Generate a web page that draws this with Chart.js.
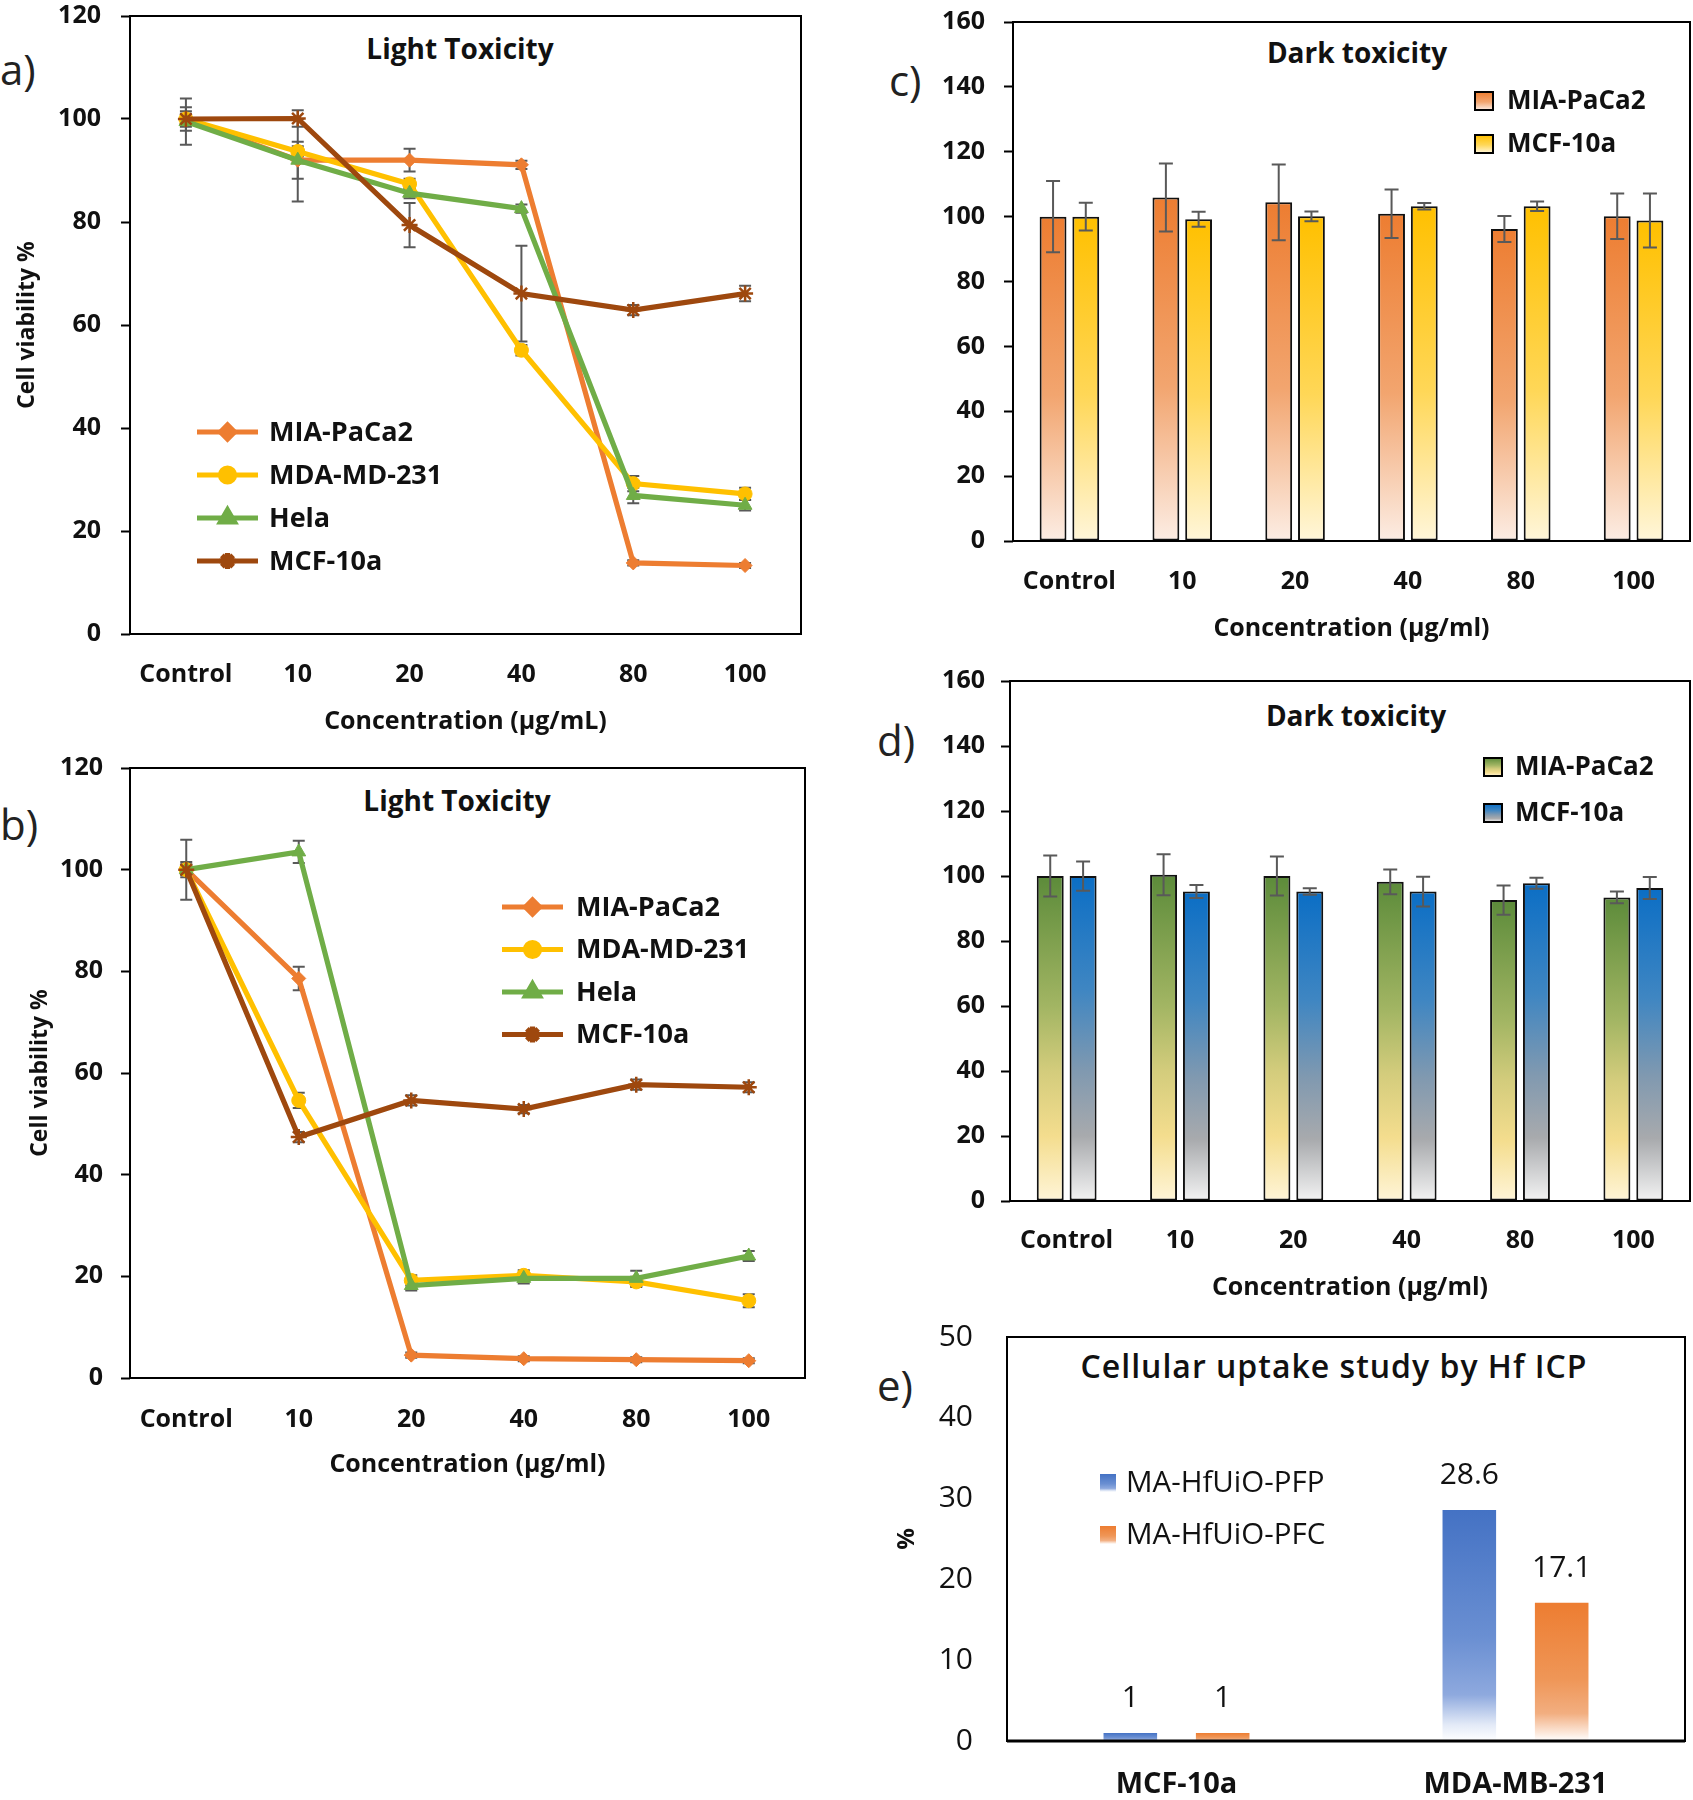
<!DOCTYPE html>
<html>
<head>
<meta charset="utf-8">
<script src="https://cdn.jsdelivr.net/npm/chart.js@4.4.1/dist/chart.umd.min.js"></script>
<style>
html,body{margin:0;padding:0;background:#fff;}
body{width:1693px;height:1800px;position:relative;overflow:hidden;font-family:'Open Sans',Lato,sans-serif;color:#111;}
.txt{position:absolute;white-space:nowrap;transform:translate(-50%,-50%);line-height:1;}
.plab{position:absolute;white-space:nowrap;transform:translateY(-50%);font-size:42px;font-weight:400;line-height:1;color:#222;}
.panel{position:absolute;}
</style>
</head>
<body>
<div class="plab" style="left:0px;top:69px;">a)</div>
<div class="plab" style="left:0px;top:824px;">b)</div>
<div class="plab" style="left:889px;top:80px;">c)</div>
<div class="plab" style="left:877px;top:740px;">d)</div>
<div class="plab" style="left:877px;top:1385px;">e)</div>
<div class="txt" style="left:460px;top:48px;font-size:28px;font-weight:700;">Light Toxicity</div>
<div class="txt" style="left:457px;top:800px;font-size:28px;font-weight:700;">Light Toxicity</div>
<div class="txt" style="left:1357px;top:52px;font-size:28px;font-weight:700;">Dark toxicity</div>
<div class="txt" style="left:1356px;top:715px;font-size:28px;font-weight:700;">Dark toxicity</div>
<div class="txt" style="left:1334px;top:1366px;font-size:32px;font-weight:600;letter-spacing:1px;">Cellular uptake study by Hf ICP</div>

<script>
// ---------------- DATA ----------------
const concCategories = ['Control', '10', '20', '40', '80', '100'];
const lineSeriesNames = ['MIA-PaCa2', 'MDA-MD-231', 'Hela', 'MCF-10a'];

// Panel a – Light toxicity
const aMIA     = [100, 92.0, 92.0, 91.1, 13.8, 13.3];
const aMIAErr  = [2.3, 3.6, 2.2, 0.8, 0.5, 0.5];
const aMDA     = [100, 93.7, 87.4, 55.1, 29.2, 27.2];
const aMDAErr  = [1.0, 1.0, 1.0, 1.0, 1.5, 1.2];
const aHela    = [99.5, 92.0, 85.6, 82.6, 26.9, 25.0];
const aHelaErr = [4.5, 8.0, 1.0, 0.8, 1.5, 1.0];
const aMCF     = [100, 100.1, 79.4, 66.1, 62.9, 66.1];
const aMCFErr  = [1.5, 1.6, 4.3, 9.3, 1.0, 1.5];

// Panel b – Light toxicity
const bMIA     = [100, 78.6, 4.5, 3.8, 3.6, 3.4];
const bMIAErr  = [1.5, 2.3, 0.5, 0.5, 0.5, 0.5];
const bMDA     = [100, 54.6, 19.2, 20.2, 18.9, 15.2];
const bMDAErr  = [1.0, 1.5, 1.0, 1.0, 1.0, 1.3];
const bHela    = [100, 103.5, 18.2, 19.6, 19.6, 24.0];
const bHelaErr = [1.0, 2.2, 1.0, 1.0, 1.5, 1.0];
const bMCF     = [100, 47.4, 54.6, 52.9, 57.7, 57.2];
const bMCFErr  = [5.9, 1.0, 1.0, 0.8, 1.0, 1.0];

// Panel c – Dark toxicity
const barSeriesNames = ['MIA-PaCa2', 'MCF-10a'];
const cMIA    = [100, 105.9, 104.4, 100.9, 96.2, 100.1];
const cMIAErr = [11.0, 10.5, 11.7, 7.5, 4.0, 7.0];
const cMCF    = [100, 99.2, 100.1, 103.2, 103.2, 98.8];
const cMCFErr = [4.3, 2.3, 1.5, 1.0, 1.5, 8.3];

// Panel d – Dark toxicity
const dMIA    = [100, 100.4, 100, 98.2, 92.6, 93.4];
const dMIAErr = [6.3, 6.3, 6.0, 3.8, 4.5, 1.8];
const dMCF    = [100, 95.2, 95.2, 95.2, 97.8, 96.3];
const dMCFErr = [4.5, 2.0, 1.0, 4.6, 1.7, 3.4];

// Panel e – Cellular uptake
const eCategories = ['MCF-10a', 'MDA-MB-231'];
const eSeriesNames = ['MA-HfUiO-PFP', 'MA-HfUiO-PFC'];
const ePFP = [1, 28.6];
const ePFC = [1, 17.1];

// tick settings
const lightYMax = 120, lightYStep = 20;
const darkYMax = 160, darkYStep = 20;
const uptakeYMax = 50, uptakeYStep = 10;

// ---------------- STYLE ----------------
const FONT = "'Open Sans'";
const FONTFAM = 'Open Sans';
const C_ORANGE = '#ED7D31', C_YELLOW = '#FFC000', C_GREEN = '#70AD47', C_BROWN = '#9E480E';
const TXT = '#111';

const gradOrange = [[0, '#ED7D31'], [0.55, '#F2A56F'], [1, '#FCEDE4']];
const gradYellow = [[0, '#FFC000'], [0.55, '#FFD757'], [1, '#FFF6DA']];
const gradGreen  = [[0, '#5C8B3A'], [0.4, '#A2B563'], [0.6, '#D3CC7C'], [0.8, '#F4DD8E'], [1, '#FFF5D8']];
const gradBlue   = [[0, '#0B6EC5'], [0.35, '#3F86C2'], [0.6, '#8099B0'], [0.8, '#A8AAAD'], [1, '#F3F3F3']];
const gradEBlue  = [[0, '#4472C4'], [0.55, '#6A8FD2'], [0.8, '#8EA9DE'], [0.93, '#E3EAF7'], [1, '#FFFFFF']];
const gradEOrange= [[0, '#ED7D31'], [0.55, '#EF9657'], [0.8, '#F2AE80'], [0.93, '#FBE3D3'], [1, '#FFFFFF']];

// ---------------- PLUGINS ----------------
function drawErrors(chart, o) {
  const ctx = chart.ctx, ys = chart.scales.y;
  ctx.save();
  ctx.strokeStyle = o.color; ctx.lineWidth = o.width; ctx.lineCap = 'butt';
  chart.data.datasets.forEach((ds, di) => {
    if (!ds.errorBars) return;
    const meta = chart.getDatasetMeta(di);
    meta.data.forEach((el, i) => {
      const v = ds.data[i], e = ds.errorBars[i];
      if (e == null || v == null) return;
      const x = el.x, yt = ys.getPixelForValue(v + e), yb = ys.getPixelForValue(v - e);
      ctx.beginPath();
      ctx.moveTo(x, yt); ctx.lineTo(x, yb);
      ctx.moveTo(x - o.cap, yt); ctx.lineTo(x + o.cap, yt);
      ctx.moveTo(x - o.cap, yb); ctx.lineTo(x + o.cap, yb);
      ctx.stroke();
    });
  });
  ctx.restore();
}
const errorBarPlugin = {
  id: 'errorBars',
  beforeDatasetsDraw(chart, a, o) { if (o.layer === 'below') drawErrors(chart, o); },
  afterDatasetsDraw(chart, a, o) { if (o.layer !== 'below') drawErrors(chart, o); }
};
const framePlugin = {
  id: 'frame',
  afterDatasetsDraw(chart, a, o) {
    const {left, top, right, bottom} = chart.chartArea, ctx = chart.ctx;
    ctx.save(); ctx.strokeStyle = '#000'; ctx.lineWidth = o.width || 2;
    ctx.strokeRect(left, top, right - left, bottom - top);
    if (o.bottomWidth) { ctx.lineWidth = o.bottomWidth; ctx.beginPath(); ctx.moveTo(left, bottom); ctx.lineTo(right, bottom); ctx.stroke(); }
    ctx.restore();
  }
};
function fillGradRect(ctx, stops, x, y, w, h) {
  const g = ctx.createLinearGradient(0, y, 0, y + h);
  stops.forEach(s => g.addColorStop(s[0], s[1]));
  ctx.fillStyle = g; ctx.fillRect(x, y, w, h);
}
const insideLegendPlugin = {
  id: 'insideLegend',
  afterDraw(chart, a, o) {
    const ctx = chart.ctx;
    ctx.save();
    chart.data.datasets.forEach((ds, i) => {
      const y = o.y + i * o.dy;
      if (o.kind === 'line') {
        ctx.strokeStyle = ds.borderColor; ctx.lineWidth = ds.borderWidth;
        ctx.beginPath(); ctx.moveTo(o.x, y); ctx.lineTo(o.x + o.len, y); ctx.stroke();
        ctx.fillStyle = ds.pointBackgroundColor; ctx.strokeStyle = ds.pointBorderColor;
        Chart.helpers.drawPoint(ctx, {pointStyle: ds.pointStyle, radius: ds.pointRadius, rotation: 0, borderWidth: ds.pointBorderWidth}, o.x + o.len / 2, y);
      } else {
        fillGradRect(ctx, ds.gradStops, o.x, y - o.box / 2, o.boxW || o.box, o.box);
        if (o.border) { ctx.strokeStyle = '#000'; ctx.lineWidth = 2; ctx.strokeRect(o.x, y - o.box / 2, o.boxW || o.box, o.box); }
      }
      ctx.fillStyle = TXT; ctx.font = o.font; ctx.textAlign = 'left'; ctx.textBaseline = 'middle';
      ctx.fillText(ds.label, o.textX, y + 1);
    });
    ctx.restore();
  }
};
const valueLabelPlugin = {
  id: 'valueLabels',
  afterDatasetsDraw(chart, a, o) {
    const ctx = chart.ctx;
    ctx.save(); ctx.fillStyle = TXT; ctx.font = o.font; ctx.textAlign = 'center'; ctx.textBaseline = 'middle';
    chart.data.datasets.forEach((ds, di) => {
      chart.getDatasetMeta(di).data.forEach((el, i) => {
        ctx.fillText(String(ds.data[i]), el.x, el.y - o.gap);
      });
    });
    ctx.restore();
  }
};
function barGradient(stops) {
  return (c) => {
    const chart = c.chart;
    if (!chart.chartArea || c.type !== 'data' || !chart.scales.y) return stops[0][1];
    const ys = chart.scales.y;
    const top = ys.getPixelForValue(c.raw), base = ys.getPixelForValue(0);
    if (Math.abs(base - top) < 1) return stops[0][1];
    const g = chart.ctx.createLinearGradient(0, top, 0, base);
    stops.forEach(s => g.addColorStop(s[0], s[1]));
    return g;
  };
}

// ---------------- HELPERS ----------------
function makePanel(left, top, width, height, config) {
  const div = document.createElement('div');
  div.className = 'panel';
  div.style.left = left + 'px'; div.style.top = top + 'px';
  div.style.width = width + 'px'; div.style.height = height + 'px';
  const cv = document.createElement('canvas');
  cv.width = width; cv.height = height;
  cv.style.width = width + 'px'; cv.style.height = height + 'px';
  div.appendChild(cv);
  document.body.appendChild(div);
  return new Chart(cv, config);
}
function fixW(w) { return (s) => { s.width = w; s.paddingTop = 0; s.paddingBottom = 0; }; }
function fixH(h) { return (s) => { s.height = h; s.paddingLeft = 0; s.paddingRight = 0; }; }

function lineDatasets(vals, errs) {
  const styles = [
    {c: C_ORANGE, ps: 'rectRot', r: 7, bw: 1, order: 4},
    {c: C_YELLOW, ps: 'circle', r: 7, bw: 1, order: 3},
    {c: C_GREEN, ps: 'triangle', r: 8, bw: 1, order: 2},
    {c: C_BROWN, ps: 'star', r: 8, bw: 2.5, order: 1}
  ];
  return vals.map((v, i) => ({
    label: lineSeriesNames[i], data: v, errorBars: errs[i],
    borderColor: styles[i].c, backgroundColor: styles[i].c, borderWidth: 5.2,
    pointStyle: styles[i].ps, pointRadius: styles[i].r, pointBorderWidth: styles[i].bw,
    pointBackgroundColor: styles[i].c, pointBorderColor: styles[i].c, pointHoverRadius: styles[i].r,
    tension: 0, order: styles[i].order, fill: false
  }));
}

function lineConfig(datasets, p) {
  return {
    type: 'line',
    data: {labels: concCategories, datasets},
    plugins: [errorBarPlugin, framePlugin, insideLegendPlugin],
    options: {
      responsive: false, animation: false, devicePixelRatio: 1,
      layout: {padding: {top: p.padTop, right: p.padRight, left: 0, bottom: 0}},
      plugins: {
        legend: {display: false}, tooltip: {enabled: false}, title: {display: false},
        errorBars: {layer: 'below', color: '#595959', width: 2, cap: 6},
        frame: {width: 2},
        insideLegend: p.legend
      },
      scales: {
        x: {
          type: 'category', offset: true, afterFit: fixH(p.xH),
          grid: {display: false, drawTicks: false}, border: {display: false},
          ticks: {font: {family: FONTFAM, size: 25, weight: 'bold'}, color: TXT, padding: p.xTickPad, maxRotation: 0, autoSkip: false},
          title: {display: true, text: p.xTitle, font: {family: FONTFAM, size: 25, weight: 'bold'}, color: TXT, padding: {top: 0, bottom: p.xTitlePad}}
        },
        y: {
          min: 0, max: lightYMax, afterFit: fixW(p.yW),
          grid: {display: true, drawOnChartArea: false, drawTicks: true, tickLength: 9, tickColor: '#000', tickWidth: 2, color: '#000'},
          border: {display: false},
          ticks: {stepSize: lightYStep, font: {family: FONTFAM, size: 25, weight: 'bold'}, color: TXT, padding: p.yTickPad},
          title: {display: true, text: 'Cell viability %', font: {family: FONTFAM, size: 23, weight: 'bold'}, color: TXT, padding: {top: p.yTitlePad, bottom: 0}}
        }
      }
    }
  };
}

function darkConfig(vals, errs, grads, p) {
  return {
    type: 'bar',
    data: {labels: concCategories, datasets: vals.map((v, i) => ({
      label: barSeriesNames[i], data: v, errorBars: errs[i], gradStops: grads[i],
      backgroundColor: barGradient(grads[i]), borderColor: '#111', borderWidth: 2, borderSkipped: false,
      categoryPercentage: 0.58, barPercentage: 0.82
    }))},
    plugins: [errorBarPlugin, framePlugin, insideLegendPlugin],
    options: {
      responsive: false, animation: false, devicePixelRatio: 1,
      layout: {padding: {top: p.padTop, right: p.padRight, left: 0, bottom: 0}},
      plugins: {
        legend: {display: false}, tooltip: {enabled: false}, title: {display: false},
        errorBars: {layer: 'above', color: '#595959', width: 2, cap: 7},
        frame: {width: 2},
        insideLegend: p.legend
      },
      scales: {
        x: {
          type: 'category', offset: true, afterFit: fixH(p.xH),
          grid: {display: false, drawTicks: false}, border: {display: false},
          ticks: {font: {family: FONTFAM, size: 25, weight: 'bold'}, color: TXT, padding: p.xTickPad, maxRotation: 0, autoSkip: false},
          title: {display: true, text: 'Concentration (µg/ml)', font: {family: FONTFAM, size: 25, weight: 'bold'}, color: TXT, padding: {top: 0, bottom: p.xTitlePad}}
        },
        y: {
          min: 0, max: darkYMax, afterFit: fixW(p.yW),
          grid: {display: true, drawOnChartArea: false, drawTicks: true, tickLength: 9, tickColor: '#000', tickWidth: 2, color: '#000'},
          border: {display: false},
          ticks: {stepSize: darkYStep, font: {family: FONTFAM, size: 25, weight: 'bold'}, color: TXT, padding: p.yTickPad}
        }
      }
    }
  };
}

// ---------------- PANELS ----------------
// a) plot area: x 130–801, y 16–634
makePanel(0, 0, 813, 746, lineConfig(
  lineDatasets([aMIA, aMDA, aHela, aMCF], [aMIAErr, aMDAErr, aHelaErr, aMCFErr]),
  {padTop: 16, padRight: 12, xH: 112, yW: 130, xTickPad: 26, xTitlePad: 9, yTickPad: 20, yTitlePad: 14,
   xTitle: 'Concentration (µg/mL)',
   legend: {kind: 'line', x: 197, len: 61, y: 432, dy: 43, textX: 269, font: 'bold 27px ' + FONT}}
));

// b) plot area: x 130–805, y 768–1378
makePanel(0, 752, 817, 738, lineConfig(
  lineDatasets([bMIA, bMDA, bHela, bMCF], [bMIAErr, bMDAErr, bHelaErr, bMCFErr]),
  {padTop: 16, padRight: 12, xH: 112, yW: 130, xTickPad: 27, xTitlePad: 10, yTickPad: 18, yTitlePad: 27,
   xTitle: 'Concentration (µg/ml)',
   legend: {kind: 'line', x: 502, len: 61, y: 907 - 752, dy: 42.5, textX: 576, font: 'bold 27px ' + FONT}}
));

// c) plot area: x 1013–1690, y 22–541
makePanel(930, 6, 763, 644, darkConfig([cMIA, cMCF], [cMIAErr, cMCFErr], [gradOrange, gradYellow],
  {padTop: 16, padRight: 3, xH: 109, yW: 83, xTickPad: 26, xTitlePad: 6, yTickPad: 19,
   legend: {kind: 'box', x: 1475 - 930, box: 18, border: true, y: 101 - 6, dy: 43, textX: 1507 - 930, font: 'bold 26px ' + FONT}}
));

// d) plot area: x 1010–1690, y 681–1201
makePanel(930, 665, 763, 645, darkConfig([dMIA, dMCF], [dMIAErr, dMCFErr], [gradGreen, gradBlue],
  {padTop: 16, padRight: 3, xH: 109, yW: 80, xTickPad: 25, xTitlePad: 7, yTickPad: 16,
   legend: {kind: 'box', x: 1484 - 930, box: 18, border: true, y: 767 - 665, dy: 46, textX: 1515 - 930, font: 'bold 26px ' + FONT}}
));

// e) plot area: x 1007–1685, y 1337–1741
makePanel(880, 1317, 813, 483, {
  type: 'bar',
  data: {labels: eCategories, datasets: [
    {label: eSeriesNames[0], data: ePFP, gradStops: gradEBlue, backgroundColor: barGradient(gradEBlue), borderWidth: 0, categoryPercentage: 0.545, barPercentage: 0.58},
    {label: eSeriesNames[1], data: ePFC, gradStops: gradEOrange, backgroundColor: barGradient(gradEOrange), borderWidth: 0, categoryPercentage: 0.545, barPercentage: 0.58}
  ]},
  plugins: [framePlugin, insideLegendPlugin, valueLabelPlugin],
  options: {
    responsive: false, animation: false, devicePixelRatio: 1,
    layout: {padding: {top: 20, right: 8, left: 0, bottom: 0}},
    plugins: {
      legend: {display: false}, tooltip: {enabled: false}, title: {display: false},
      frame: {width: 2, bottomWidth: 3},
      insideLegend: {kind: 'box', x: 1100 - 880, box: 18, boxW: 16, border: false, y: 1483 - 1317, dy: 52, textX: 1126 - 880, font: '29.5px ' + FONT},
      valueLabels: {font: '30px ' + FONT, gap: 34}
    },
    scales: {
      x: {
        type: 'category', offset: true, afterFit: fixH(59),
        grid: {display: false, drawTicks: false}, border: {display: false},
        ticks: {font: {family: FONTFAM, size: 29, weight: 'bold'}, color: TXT, padding: 26, maxRotation: 0, autoSkip: false}
      },
      y: {
        min: 0, max: uptakeYMax, afterFit: fixW(127),
        grid: {display: false, drawTicks: false}, border: {display: false},
        ticks: {stepSize: uptakeYStep, font: {family: FONTFAM, size: 30}, color: TXT, padding: 34},
        title: {display: true, text: '%', font: {family: FONTFAM, size: 24, weight: 'bold'}, color: TXT, padding: {top: 12.6, bottom: 0}}
      }
    }
  }
});
</script>
</body>
</html>
